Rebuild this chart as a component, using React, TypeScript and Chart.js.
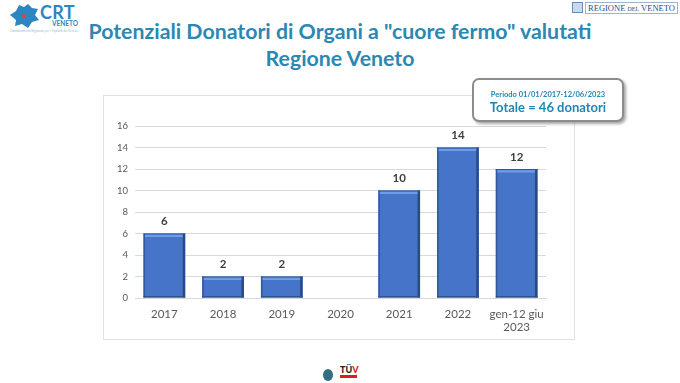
import React, { useEffect, useRef } from "react";
import { Chart, registerables } from "chart.js";

Chart.register(...registerables);

const categories: (string | string[])[] = ["2017", "2018", "2019", "2020", "2021", "2022", ["gen-12 giu", "2023"]];
const donatori: number[] = [6, 2, 2, 0, 10, 14, 12];
const yTicks: number[] = [0, 2, 4, 6, 8, 10, 12, 14, 16];

const titleLine1 = 'Potenziali Donatori di Organi a "cuore fermo" valutati';
const titleLine2 = "Regione Veneto";
const periodo = "Periodo 01/01/2017-12/06/2023";
const totale = "Totale = 46 donatori";

const bevelPlugin = {
  id: "bevel",
  afterDatasetsDraw(chart: any) {
    const ctx = chart.ctx;
    const meta = chart.getDatasetMeta(0);
    ctx.save();
    meta.data.forEach((bar: any, i: number) => {
      const v = donatori[i];
      if (!v) return;
      const { x, y, base, width } = bar.getProps(["x", "y", "base", "width"], true);
      const l = x - width / 2;
      const r = x + width / 2;
      ctx.fillStyle = "#2A4A86";
      ctx.fillRect(r - 2.5, y, 2.5, base - y);
      ctx.fillStyle = "#33589A";
      ctx.fillRect(l, y, 1.5, base - y);
      ctx.fillStyle = "#2F5190";
      ctx.fillRect(l, base - 1.5, width, 1.5);
      ctx.fillStyle = "#33589A";
      ctx.fillRect(l, y, width, 1.2);
      ctx.fillStyle = "#6D9DEA";
      ctx.fillRect(l + 1.5, y + 1.2, width - 4, 2.3);
    });
    ctx.restore();
  },
};

const labelPlugin = {
  id: "valueLabels",
  afterDatasetsDraw(chart: any) {
    const ctx = chart.ctx;
    const meta = chart.getDatasetMeta(0);
    ctx.save();
    ctx.font = "bold 11.5px Lato, 'Open Sans', sans-serif";
    ctx.fillStyle = "#404040";
    ctx.textAlign = "center";
    ctx.textBaseline = "bottom";
    meta.data.forEach((bar: any, i: number) => {
      const v = donatori[i];
      if (!v) return;
      ctx.fillText(String(v), bar.x, bar.y - 6);
    });
    ctx.restore();
  },
};

function ChartBox() {
  const ref = useRef<HTMLCanvasElement | null>(null);
  useEffect(() => {
    if (!ref.current) return;
    const chart = new Chart(ref.current, {
      type: "bar",
      data: {
        labels: categories as any,
        datasets: [
          {
            data: donatori,
            backgroundColor: "#4674C8",
            borderWidth: 0,
            barPercentage: 0.71,
            categoryPercentage: 1,
          },
        ],
      },
      options: {
        animation: false,
        responsive: false,
        maintainAspectRatio: false,
        layout: { padding: { left: 0, right: 29, top: 31, bottom: 0 } },
        plugins: { legend: { display: false }, tooltip: { enabled: false } },
        scales: {
          y: {
            min: 0,
            max: 16,
            afterBuildTicks: (s: any) => {
              s.ticks = yTicks.map((v) => ({ value: v }));
            },
            afterFit: (s: any) => {
              s.width = 32;
            },
            grid: { color: "#D9D9D9", drawTicks: false },
            border: { display: false },
            ticks: { color: "#595959", padding: 7, font: { size: 9.5, family: "Lato, 'Open Sans', sans-serif" } },
          },
          x: {
            afterFit: (s: any) => {
              s.height = 42;
            },
            grid: { display: false, drawTicks: false },
            border: { display: true, color: "#D9D9D9" },
            ticks: { color: "#595959", padding: 9, maxRotation: 0, font: { size: 11.5, family: "Lato, 'Open Sans', sans-serif" } },
          },
        },
      },
      plugins: [bevelPlugin, labelPlugin],
    });
    return () => chart.destroy();
  }, []);
  return <canvas ref={ref} width={472} height={245} style={{ display: "block" }} />;
}

export default function App() {
  const teal = "#2A88B2";
  return (
    <div
      style={{
        position: "fixed",
        left: 0,
        top: 0,
        width: 680,
        height: 383,
        background: "#FFFFFF",
        overflow: "hidden",
        fontFamily: "Lato, 'Open Sans', sans-serif",
      }}
    >
      {/* CRT logo */}
      <svg style={{ position: "absolute", left: 8, top: 3 }} width={32} height={26} viewBox="0 0 32 26">
        <path d="M2 12 L8 8 L11 2 L16 4 L20 1 L24 5 L30 6 L27 12 L31 17 L24 19 L20 25 L14 21 L7 23 L8 17 Z" fill="#2E86C1" />
        <circle cx="16" cy="13" r="2" fill="#E04040" />
      </svg>
      <div style={{ position: "absolute", left: 40, top: 1, fontSize: 18, fontWeight: 700, color: "#2E86C1", letterSpacing: 0.3 }}>CRT</div>
      <div style={{ position: "absolute", left: 52, top: 20, fontSize: 6.5, fontWeight: 700, color: "#2E86C1" }}>VENETO</div>
      <div
        style={{
          position: "absolute",
          left: 10,
          top: 29,
          fontSize: 4,
          color: "#9DB9D2",
          whiteSpace: "nowrap",
          transform: "scale(0.75)",
          transformOrigin: "0 0",
        }}
      >
        Coordinamento Regionale per i Trapianti del Veneto
      </div>

      {/* Regione del Veneto logo */}
      <div
        style={{
          position: "absolute",
          left: 572,
          top: 2,
          width: 11,
          height: 11,
          background: "#C9D8EA",
          border: "1px solid #6B8CB5",
          boxSizing: "border-box",
        }}
      />
      <div
        style={{
          position: "absolute",
          left: 585,
          top: 2,
          width: 93,
          height: 12,
          border: "1px solid #9FB3CC",
          boxSizing: "border-box",
          fontFamily: "'Liberation Serif', 'DejaVu Serif', serif",
          fontSize: 8.5,
          lineHeight: "10px",
          color: "#1F4E8C",
          textAlign: "center",
          whiteSpace: "nowrap",
        }}
      >
        REGIONE <span style={{ fontSize: 6 }}>DEL</span> VENETO
      </div>

      {/* Title */}
      <div
        style={{
          position: "absolute",
          left: 0,
          top: 18,
          width: 680,
          textAlign: "center",
          color: teal,
          fontWeight: 700,
          fontSize: 21.3,
          lineHeight: "27px",
          whiteSpace: "nowrap",
        }}
      >
        <div>{titleLine1}</div>
        <div>{titleLine2}</div>
      </div>

      {/* Chart frame */}
      <div
        style={{
          position: "absolute",
          left: 103,
          top: 95,
          width: 472,
          height: 245,
          border: "1px solid #DCE3EE",
          boxSizing: "border-box",
        }}
      />
      <div style={{ position: "absolute", left: 103, top: 95 }}>
        <ChartBox />
      </div>

      {/* Period box */}
      <div
        style={{
          position: "absolute",
          left: 472,
          top: 78,
          width: 152,
          height: 44,
          background: "#FFFFFF",
          border: "2px solid #8C8C8C",
          borderRadius: 7,
          boxSizing: "border-box",
          boxShadow: "2px 2px 3px rgba(0,0,0,0.35)",
          textAlign: "center",
          color: "#1D87B5",
          fontWeight: 700,
        }}
      >
        <div style={{ fontSize: 7.5, marginTop: 10, lineHeight: "9px" }}>{periodo}</div>
        <div style={{ fontSize: 13, lineHeight: "16px" }}>{totale}</div>
      </div>

      {/* Bottom logos */}
      <div
        style={{
          position: "absolute",
          left: 323,
          top: 369,
          width: 10,
          height: 12,
          borderRadius: "50%",
          background: "#2F6F7F",
        }}
      />
      <div style={{ position: "absolute", left: 340, top: 365, fontSize: 9, fontWeight: 900, color: "#222", lineHeight: "10px" }}>
        TÜ<span style={{ color: "#D81E1E" }}>V</span>
      </div>
      <div style={{ position: "absolute", left: 340, top: 375, width: 17, height: 3, background: "#D81E1E" }} />
    </div>
  );
}
